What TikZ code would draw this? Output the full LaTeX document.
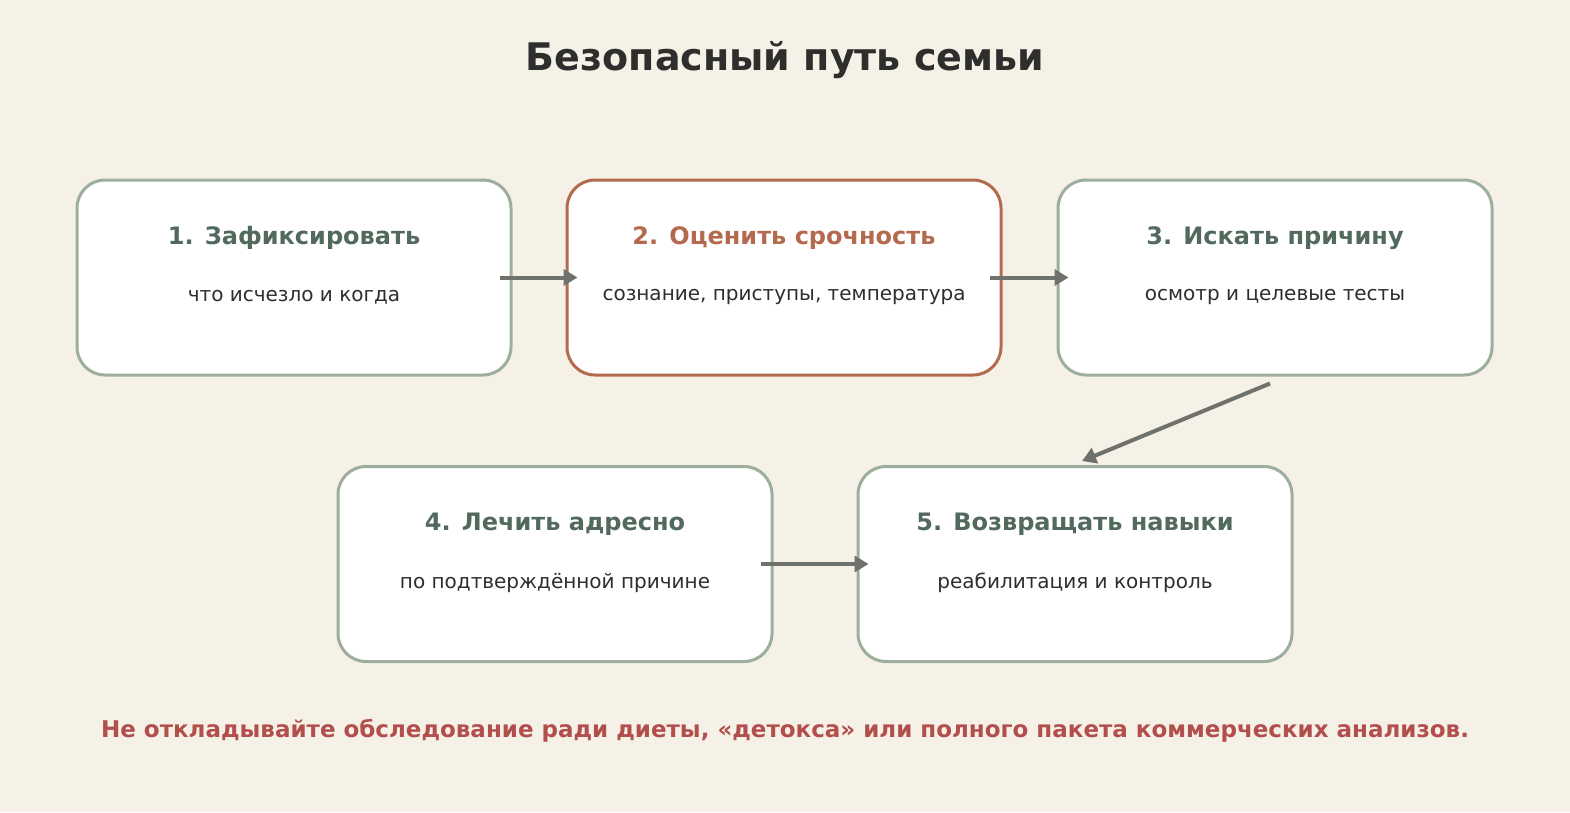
\documentclass[tikz,border=0pt]{standalone}
\usepackage{fontspec}
\setmainfont{DejaVu Sans}
\usetikzlibrary{arrows.meta}
\definecolor{bg}{HTML}{F6F1E7}
\definecolor{gborder}{HTML}{9DAF9C}
\definecolor{oborder}{HTML}{B36A4F}
\definecolor{gtext}{HTML}{526A5D}
\definecolor{dtext}{HTML}{2E2F2C}
\definecolor{arr}{HTML}{6E716C}
\definecolor{warn}{HTML}{B24E4C}
\begin{document}
\begin{tikzpicture}[x=1pt,y=-1pt,
  box/.style={draw=gborder,line width=3pt,fill=white,rounded corners=28pt,minimum width=434pt,minimum height=195pt,inner sep=0pt},
  hot/.style={box,draw=oborder},
  ttl/.style={font=\bfseries\fontsize{24}{28}\selectfont,text=gtext},
  sub/.style={font=\fontsize{20}{24}\selectfont,text=dtext},
  con/.style={draw=arr,line width=4pt,-{Triangle[length=14pt,width=16pt]}}]
\fill[bg] (0,0) rectangle (1570,812);
\useasboundingbox (0,0) rectangle (1570,812);
\node[font=\bfseries\fontsize{38}{44}\selectfont,text=dtext] (title) at (785,60) {Безопасный путь семьи};
\node[box] (b1) at (294,277.5) {};
\node[hot] (b2) at (784,277.5) {};
\node[box] (b3) at (1275,277.5) {};
\node[box] (b4) at (555,564) {};
\node[box] (b5) at (1075,564) {};
\node[ttl] (t1) at (294,238) {1. Зафиксировать};
\node[sub] (s1) at (294,297) {что исчезло и когда};
\node[ttl,text=oborder] (t2) at (784,238) {2. Оценить срочность};
\node[sub] (s2) at (784,297) {сознание, приступы, температура};
\node[ttl] (t3) at (1275,238) {3. Искать причину};
\node[sub] (s3) at (1275,297) {осмотр и целевые тесты};
\node[ttl] (t4) at (555,524) {4. Лечить адресно};
\node[sub] (s4) at (555,583) {по подтверждённой причине};
\node[ttl] (t5) at (1075,524) {5. Возвращать навыки};
\node[sub] (s5) at (1075,583) {реабилитация и контроль};
\draw[con] ([xshift=-13pt]b1.east) -- ([xshift=12pt]b2.west);
\draw[con] ([xshift=-13pt]b2.east) -- ([xshift=12pt]b3.west);
\draw[con] ([yshift=-7pt]b3.south) ++(-5,0) -- ([xshift=7pt,yshift=4pt]b5.north);
\draw[con] ([xshift=-13pt]b4.east) -- ([xshift=12pt]b5.west);
\node[font=\bfseries\fontsize{23}{27}\selectfont,text=warn] (note) at (785,731) {Не откладывайте обследование ради диеты, «детокса» или полного пакета коммерческих анализов.};
\end{tikzpicture}
\end{document}
